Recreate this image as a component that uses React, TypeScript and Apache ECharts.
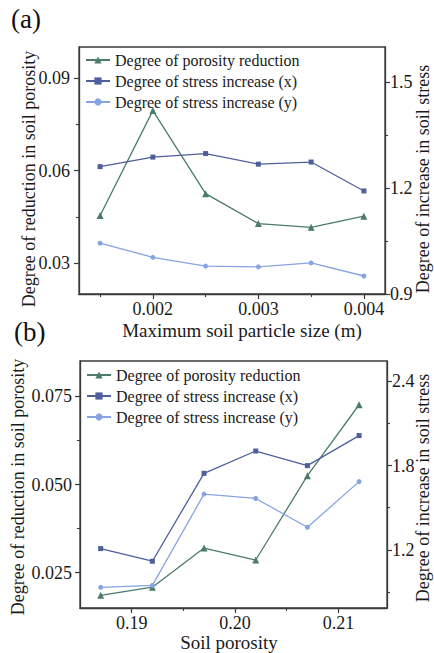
import React, { useEffect, useRef } from "react";
import * as echarts from "echarts";

// Panel (a)
const sizeA = [0.0015, 0.002, 0.0025, 0.003, 0.0035, 0.004];
const porosityRedA = [0.0454, 0.0794, 0.0525, 0.0428, 0.0416, 0.0452];
const stressXA = [1.261, 1.288, 1.298, 1.268, 1.274, 1.192];
const stressYA = [1.044, 1.004, 0.979, 0.977, 0.988, 0.951];

// Panel (b)
const porosityB = [0.187, 0.192, 0.197, 0.202, 0.207, 0.212];
const porosityRedB = [0.0186, 0.0209, 0.032, 0.0286, 0.0525, 0.0726];
const stressXB = [1.209, 1.119, 1.745, 1.904, 1.8, 2.014];
const stressYB = [0.933, 0.947, 1.597, 1.566, 1.361, 1.686];

// Tick values
const xTicksA = [0.002, 0.003, 0.004];
const xMinorA = [0.0015, 0.0025, 0.0035];
const leftTicksA = [0.03, 0.06, 0.09];
const leftMinorA = [0.045, 0.075];
const rightTicksA = [0.9, 1.2, 1.5];
const rightMinorA = [1.05, 1.35];

const xTicksB = [0.19, 0.2, 0.21];
const xMinorB = [0.195, 0.205];
const leftTicksB = [0.025, 0.05, 0.075];
const leftMinorB = [0.0375, 0.0625];
const rightTicksB = [1.2, 1.8, 2.4];
const rightMinorB = [0.9, 1.5, 2.1];

const seriesNames = [
  "Degree of porosity reduction",
  "Degree of stress increase (x)",
  "Degree of stress increase (y)",
];
const xTitleA = "Maximum soil particle size (m)";
const xTitleB = "Soil porosity";
const leftTitle = "Degree of reduction in soil porosity";
const rightTitle = "Degree of increase in soil stress";

const colors = ["#4b7b6d", "#4e5f9c", "#86a3e3"];
const symbols = ["triangle", "rect", "circle"];

const FONT = "'Liberation Serif', serif";
const AXIS_COLOR = "#3a3a3a";
const TEXT_COLOR = "#1a1a1a";

function majorAxis(o: any) {
  return {
    type: "value",
    gridIndex: o.grid,
    position: o.position,
    min: o.min,
    max: o.max,
    axisLine: { show: true, onZero: false, lineStyle: { color: AXIS_COLOR, width: 1.3 } },
    axisTick: {
      show: true,
      inside: false,
      length: 5,
      customValues: o.ticks,
      lineStyle: { color: AXIS_COLOR, width: 1.2 },
    },
    axisLabel: {
      show: true,
      customValues: o.ticks,
      margin: o.labelMargin,
      fontFamily: FONT,
      fontSize: 18,
      color: TEXT_COLOR,
      formatter: (v: number) => v.toFixed(o.digits),
    },
    splitLine: { show: false },
  };
}

function minorAxis(o: any) {
  return {
    type: "value",
    gridIndex: o.grid,
    position: o.position,
    min: o.min,
    max: o.max,
    axisLine: { show: false, onZero: false },
    axisTick: {
      show: true,
      inside: false,
      length: 3,
      customValues: o.ticks,
      lineStyle: { color: AXIS_COLOR, width: 1.1 },
    },
    axisLabel: { show: false },
    splitLine: { show: false },
  };
}

function makeSeries(name: string, idx: number, xs: number[], ys: number[], xi: number, yi: number) {
  return {
    type: "line",
    name,
    xAxisIndex: xi,
    yAxisIndex: yi,
    data: xs.map((x, i) => [x, ys[i]]),
    symbol: symbols[idx],
    symbolSize: idx === 0 ? 7 : 5,
    itemStyle: { color: colors[idx] },
    lineStyle: { color: colors[idx], width: 1.3 },
  };
}

function title(text: string, x: number, y: number, size: number, vertical: boolean) {
  return {
    type: "text",
    x,
    y,
    rotation: vertical ? Math.PI / 2 : 0,
    style: {
      text,
      fontFamily: FONT,
      fontSize: size,
      fill: TEXT_COLOR,
      align: "center",
      verticalAlign: "middle",
    },
  };
}

export default function App() {
  const ref = useRef<HTMLDivElement>(null);
  useEffect(() => {
    document.body.style.margin = "0";
    const chart = echarts.init(ref.current!, null, { renderer: "svg" });
    const legendBase = {
      orient: "vertical",
      padding: 0,
      itemGap: 5,
      itemWidth: 24,
      itemHeight: 9,
      data: seriesNames,
      textStyle: { fontFamily: FONT, fontSize: 16, color: TEXT_COLOR, padding: [0, 0, 0, 0] },
    };
    chart.setOption({
      animation: false,
      backgroundColor: "#ffffff",
      textStyle: { fontFamily: FONT },
      grid: [
        { left: 79, top: 47, width: 306, height: 247, show: true, borderColor: AXIS_COLOR, borderWidth: 1.3, backgroundColor: "transparent" },
        { left: 80, top: 361, width: 307, height: 247, show: true, borderColor: AXIS_COLOR, borderWidth: 1.3, backgroundColor: "transparent" },
      ],
      graphic: [
        { type: "text", left: 11, top: 5, style: { text: "(a)", fontFamily: FONT, fontSize: 27, fill: "#111" } },
        { type: "text", left: 14, top: 318, style: { text: "(b)", fontFamily: FONT, fontSize: 27, fill: "#111" } },
        title(xTitleA, 242, 330, 19, false),
        title(xTitleB, 229, 642, 19, false),
        title(leftTitle, 29, 179, 18, true),
        title(rightTitle, 423, 179, 18, true),
        title(leftTitle, 18, 487, 18, true),
        title(rightTitle, 423, 488, 18, true),
      ],
      legend: [
        { ...legendBase, left: 85, top: 52 },
        { ...legendBase, left: 86, top: 367 },
      ],
      xAxis: [
        majorAxis({ grid: 0, position: "bottom", min: 0.0013, max: 0.0042, ticks: xTicksA, digits: 3, labelMargin: 6 }),
        majorAxis({ grid: 1, position: "bottom", min: 0.185, max: 0.2147, ticks: xTicksB, digits: 2, labelMargin: 6 }),
        minorAxis({ grid: 0, position: "bottom", min: 0.0013, max: 0.0042, ticks: xMinorA }),
        minorAxis({ grid: 1, position: "bottom", min: 0.185, max: 0.2147, ticks: xMinorB }),
      ],
      yAxis: [
        majorAxis({ grid: 0, position: "left", min: 0.02, max: 0.1, ticks: leftTicksA, digits: 2, labelMargin: 9 }),
        majorAxis({ grid: 0, position: "right", min: 0.9, max: 1.6, ticks: rightTicksA, digits: 1, labelMargin: 5 }),
        majorAxis({ grid: 1, position: "left", min: 0.015, max: 0.085, ticks: leftTicksB, digits: 3, labelMargin: 8 }),
        majorAxis({ grid: 1, position: "right", min: 0.786, max: 2.545, ticks: rightTicksB, digits: 1, labelMargin: 5 }),
        minorAxis({ grid: 0, position: "left", min: 0.02, max: 0.1, ticks: leftMinorA }),
        minorAxis({ grid: 0, position: "right", min: 0.9, max: 1.6, ticks: rightMinorA }),
        minorAxis({ grid: 1, position: "left", min: 0.015, max: 0.085, ticks: leftMinorB }),
        minorAxis({ grid: 1, position: "right", min: 0.786, max: 2.545, ticks: rightMinorB }),
      ],
      series: [
        makeSeries(seriesNames[0], 0, sizeA, porosityRedA, 0, 0),
        makeSeries(seriesNames[1], 1, sizeA, stressXA, 0, 1),
        makeSeries(seriesNames[2], 2, sizeA, stressYA, 0, 1),
        makeSeries(seriesNames[0], 0, porosityB, porosityRedB, 1, 2),
        makeSeries(seriesNames[1], 1, porosityB, stressXB, 1, 3),
        makeSeries(seriesNames[2], 2, porosityB, stressYB, 1, 3),
      ],
    });
    return () => chart.dispose();
  }, []);
  return <div ref={ref} style={{ width: 434, height: 653 }} />;
}
